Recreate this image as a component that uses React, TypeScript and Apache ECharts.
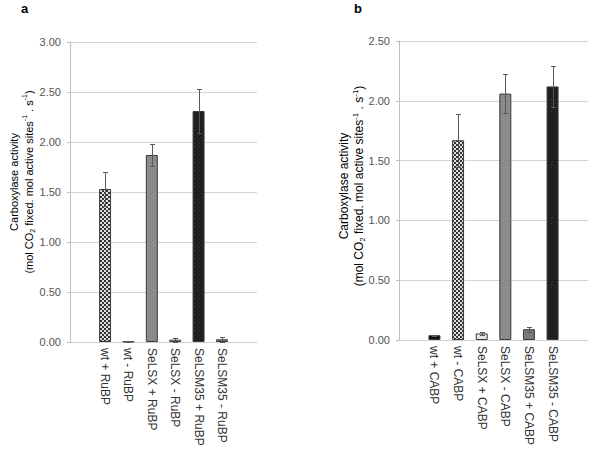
import React, { useEffect, useRef } from 'react';
import * as echarts from 'echarts';

// Panel a
const categoriesA = ['wt + RuBP', 'wt - RuBP', 'SeLSX + RuBP', 'SeLSX - RuBP', 'SeLSM35 + RuBP', 'SeLSM35 - RuBP'];
const valuesA = [1.53, 0.005, 1.87, 0.023, 2.31, 0.027];
const errorsA = [0.17, 0.003, 0.11, 0.02, 0.22, 0.022];
const yMaxA = 3;

// Panel b
const categoriesB = ['wt + CABP', 'wt - CABP', 'SeLSX + CABP', 'SeLSX - CABP', 'SeLSM35 + CABP', 'SeLSM35 - CABP'];
const valuesB = [0.04, 1.67, 0.055, 2.06, 0.09, 2.12];
const errorsB = [0.005, 0.22, 0.015, 0.16, 0.02, 0.17];
const yMaxB = 2.5;

const yInterval = 0.5;

// fill kinds per bar (style)
const fillsA = ['checker', 'thin', 'gray', 'light', 'black', 'mid'];
const fillsB = ['solidBlack', 'checker', 'light', 'gray', 'mid', 'black'];

function makeCanvas(draw: (ctx: CanvasRenderingContext2D) => void, size = 4) {
  const c = document.createElement('canvas');
  c.width = size;
  c.height = size;
  const ctx = c.getContext('2d')!;
  draw(ctx);
  return c;
}

function fillFor(kind: string): any {
  if (kind === 'checker') {
    const c = makeCanvas((ctx) => {
      ctx.fillStyle = '#e0e0e0';
      ctx.fillRect(0, 0, 4, 4);
      ctx.fillStyle = '#333333';
      ctx.fillRect(0, 0, 2, 2);
      ctx.fillRect(2, 2, 2, 2);
    });
    return { image: c, repeat: 'repeat', imageWidth: 4, imageHeight: 4 };
  }
  if (kind === 'gray') {
    const c = makeCanvas((ctx) => {
      ctx.fillStyle = '#8e8e8e';
      ctx.fillRect(0, 0, 4, 4);
      ctx.fillStyle = '#777777';
      ctx.fillRect(0, 0, 1, 1);
      ctx.fillRect(2, 2, 1, 1);
    });
    return { image: c, repeat: 'repeat', imageWidth: 4, imageHeight: 4 };
  }
  if (kind === 'black') {
    const c = makeCanvas((ctx) => {
      ctx.fillStyle = '#1c1c1c';
      ctx.fillRect(0, 0, 4, 4);
      ctx.fillStyle = '#3a3a3a';
      ctx.fillRect(1, 1, 1, 1);
      ctx.fillRect(3, 3, 1, 1);
    });
    return { image: c, repeat: 'repeat', imageWidth: 4, imageHeight: 4 };
  }
  if (kind === 'solidBlack') return '#111111';
  if (kind === 'light') return '#e6e6e6';
  if (kind === 'mid') return '#7a7a7a';
  if (kind === 'thin') return '#8a8a8a';
  return '#888888';
}

const pad = (arr: string[]) => ['', ...arr, ''];

function barData(values: number[], fills: string[]) {
  return [
    '-',
    ...values.map((v, i) => ({
      value: v,
      itemStyle: { color: fillFor(fills[i]), borderColor: '#3a3a3a', borderWidth: 1 },
    })),
    '-',
  ];
}

function errData(values: number[], errs: number[]) {
  return values.map((v, i) => [i + 1, v, errs[i]]);
}

const errStyle = { stroke: '#595959', lineWidth: 1 };
function renderErr(params: any, api: any) {
  const x = api.value(0);
  const v = api.value(1);
  const e = api.value(2);
  const top = api.coord([x, v + e]);
  const bot = api.coord([x, Math.max(v - e, 0)]);
  const cx = Math.round(top[0]) + 0.5;
  const ty = Math.round(top[1]) + 0.5;
  const by = Math.round(bot[1]) + 0.5;
  return {
    type: 'group',
    children: [
      { type: 'line', shape: { x1: cx, y1: ty, x2: cx, y2: by }, style: errStyle },
      { type: 'line', shape: { x1: cx - 2.5, y1: ty, x2: cx + 2.5, y2: ty }, style: errStyle },
      { type: 'line', shape: { x1: cx - 2.5, y1: by, x2: cx + 2.5, y2: by }, style: errStyle },
    ],
  };
}

const FONT = '"Liberation Sans", Arial, sans-serif';

function xAxisCfg(cats: string[], gridIndex: number) {
  return {
    type: 'category',
    gridIndex,
    data: pad(cats),
    axisLine: { lineStyle: { color: '#d0d0d0', width: 1 } },
    axisTick: { show: false },
    axisLabel: {
      interval: 0,
      rotate: -90,
      margin: 6,
      fontSize: 12,
      fontFamily: FONT,
      color: '#333333',
    },
    splitLine: { show: false },
  };
}

function yAxisCfg(max: number, gridIndex: number) {
  return {
    type: 'value',
    gridIndex,
    min: 0,
    max,
    interval: yInterval,
    axisLine: { show: true, lineStyle: { color: '#bdbdbd', width: 1 } },
    axisTick: { show: true, length: 3, lineStyle: { color: '#bdbdbd' } },
    axisLabel: {
      fontSize: 11,
      fontFamily: FONT,
      color: '#555555',
      margin: 9,
      formatter: (v: number) => v.toFixed(2),
    },
    splitLine: { show: true, lineStyle: { color: '#d4d4d4', width: 1 } },
  };
}

function titleRich(fs: number) {
  return {
    n: { fontSize: fs, fontFamily: FONT, color: '#333333', lineHeight: 15 },
    sub: { fontSize: fs - 4, fontFamily: FONT, color: '#333333', lineHeight: 9, verticalAlign: 'bottom' },
    sup: { fontSize: fs - 4, fontFamily: FONT, color: '#333333', lineHeight: 9, verticalAlign: 'top' },
  };
}
const titleText =
  '{n|Carboxylase activity}\n{n|(mol CO}{sub|2}{n| fixed. mol active sites}{sup|-1}{n| . s}{sup|-1}{n|)}';

function yTitle(x: number, y: number, fs: number) {
  return {
    type: 'text',
    x,
    y,
    rotation: Math.PI / 2,
    style: {
      text: titleText,
      rich: titleRich(fs),
      align: 'center',
      verticalAlign: 'middle',
    },
  };
}

export default function App() {
  const ref = useRef<HTMLDivElement>(null);
  useEffect(() => {
    document.body.style.margin = '0';
    const chart = echarts.init(ref.current!, null, { renderer: 'svg' });
    chart.setOption({
      animation: false,
      backgroundColor: '#ffffff',
      grid: [
        { left: 70, right: 343, top: 42, bottom: 110 },
        { left: 399, right: 12, top: 41, bottom: 112 },
      ],
      xAxis: [xAxisCfg(categoriesA, 0), xAxisCfg(categoriesB, 1)],
      yAxis: [yAxisCfg(yMaxA, 0), yAxisCfg(yMaxB, 1)],
      series: [
        {
          type: 'bar',
          xAxisIndex: 0,
          yAxisIndex: 0,
          barWidth: 12,
          data: barData(valuesA, fillsA),
        },
        {
          type: 'custom',
          xAxisIndex: 0,
          yAxisIndex: 0,
          renderItem: renderErr,
          data: errData(valuesA, errorsA),
          z: 5,
        },
        {
          type: 'bar',
          xAxisIndex: 1,
          yAxisIndex: 1,
          barWidth: 12,
          data: barData(valuesB, fillsB),
        },
        {
          type: 'custom',
          xAxisIndex: 1,
          yAxisIndex: 1,
          renderItem: renderErr,
          data: errData(valuesB, errorsB),
          z: 5,
        },
      ],
      graphic: [
        {
          type: 'text',
          left: 21,
          top: 2,
          style: { text: 'a', fontSize: 13, fontWeight: 'bold', fontFamily: FONT, fill: '#000' },
        },
        {
          type: 'text',
          left: 354,
          top: 2,
          style: { text: 'b', fontSize: 13, fontWeight: 'bold', fontFamily: FONT, fill: '#000' },
        },
        yTitle(21, 182, 11),
        yTitle(351, 186, 12),
      ],
    });
    return () => chart.dispose();
  }, []);
  return <div ref={ref} style={{ width: 600, height: 452 }} />;
}
